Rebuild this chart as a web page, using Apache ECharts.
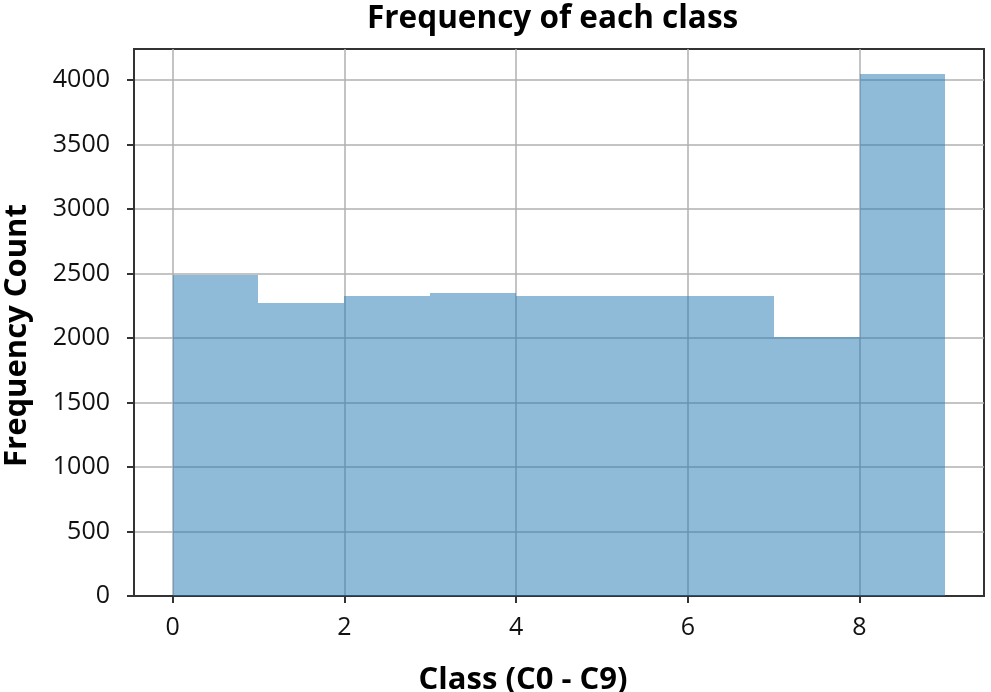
<!DOCTYPE html>
<html>
<head>
<meta charset="utf-8">
<script src="https://cdn.jsdelivr.net/npm/echarts@6/dist/echarts.min.js"></script>
<style>html,body{margin:0;padding:0;background:#fff}#c{width:991px;height:692px}</style>
</head>
<body>
<div id="c"></div>
<script>
// Histogram bins (class value ranges) and counts
var binStart = [0, 1, 2, 3, 4, 5, 6, 7, 8];
var binEnd   = [1, 2, 3, 4, 5, 6, 7, 8, 9];
var counts   = [2490, 2270, 2330, 2350, 2330, 2330, 2330, 2010, 4045];
var xTicks = [0, 2, 4, 6, 8];
var yTicks = [0, 500, 1000, 1500, 2000, 2500, 3000, 3500, 4000];

var data = binStart.map(function (s, i) { return [s, binEnd[i], counts[i]]; });

var chart = echarts.init(document.getElementById('c'), null, {renderer: 'canvas'});
var boldName = {fontFamily: 'Open Sans', fontWeight: 'bold', fontSize: 31, color: '#000'};
chart.setOption({
  animation: false,
  backgroundColor: '#fff',
  title: {
    text: 'Frequency of each class',
    left: 362,
    top: -2,
    textStyle: {fontFamily: 'Open Sans', fontWeight: 'bold', fontSize: 31.5, color: '#000'}
  },
  grid: {left: 134, top: 49, right: 7, bottom: 96, show: true, borderColor: '#333', borderWidth: 2,
    backgroundColor: 'transparent', outerBoundsMode: 'none', containLabel: false},
  xAxis: {
    type: 'value', min: -0.45, max: 9.45,
    name: 'Class (C0 - C9)', nameLocation: 'middle', nameGap: 69,
    nameTextStyle: Object.assign({padding: [0, 72, 0, 0]}, boldName),
    axisLine: {show: true, onZero: false, lineStyle: {color: '#333', width: 2}},
    axisTick: {show: true, length: 7, customValues: xTicks, lineStyle: {color: '#333', width: 2}},
    axisLabel: {customValues: xTicks, margin: 19, fontFamily: 'Open Sans', fontSize: 25, color: '#111',
      formatter: function (v) { return String(v); }},
    splitLine: {show: true, lineStyle: {color: '#b0b0b0', width: 1.5}}
  },
  yAxis: {
    type: 'value', min: 0, max: 4242,
    name: 'Frequency Count', nameLocation: 'middle', nameGap: 101, nameRotate: 90,
    nameTextStyle: Object.assign({padding: [0, 26, 0, 0]}, boldName),
    axisLine: {show: true, onZero: false, lineStyle: {color: '#333', width: 2}},
    axisTick: {show: true, length: 7, customValues: yTicks, lineStyle: {color: '#333', width: 2}},
    axisLabel: {customValues: yTicks, margin: 24, fontFamily: 'Open Sans', fontSize: 25, color: '#111',
      formatter: function (v) { return String(v); }},
    splitLine: {show: true, lineStyle: {color: '#b0b0b0', width: 1.5}}
  },
  series: [{
    type: 'custom',
    data: data,
    encode: {x: [0, 1], y: 2},
    renderItem: function (params, api) {
      var p0 = api.coord([api.value(0), api.value(2)]);
      var p1 = api.coord([api.value(1), 0]);
      var x0 = Math.round(p0[0]), x1 = Math.round(p1[0]);
      var y0 = Math.round(p0[1]), y1 = Math.round(p1[1]);
      return {
        type: 'rect',
        shape: {x: x0, y: y0, width: x1 - x0, height: y1 - y0},
        style: {fill: 'rgba(31,119,180,0.5)'}
      };
    }
  }]
});
</script>
</body>
</html>
